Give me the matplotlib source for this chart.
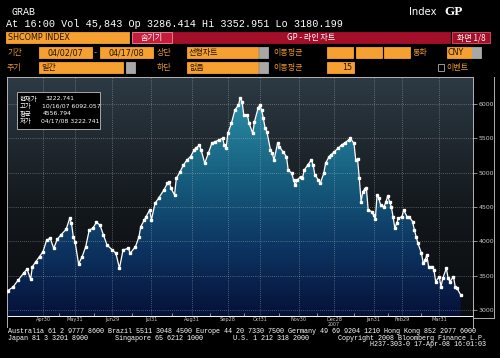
import matplotlib.pyplot as plt
import numpy as np
from matplotlib.patches import Rectangle
from matplotlib.lines import Line2D
from matplotlib.colors import LinearSegmentedColormap

W, H = 500, 358
KR = ['Noto Sans CJK KR', 'DejaVu Sans']
MONO = ['Liberation Mono', 'DejaVu Sans Mono']

# trading day number counted from 2007-04-02, SHCOMP close
day = [0, 3, 6, 9, 11, 13, 14, 16, 18, 20, 22, 24, 26, 28, 30, 33, 35, 36, 37, 38,
       40, 42, 44, 46, 48, 50, 52, 54, 56, 59, 61, 63, 65, 68, 69, 72, 74, 75, 77, 78,
       80, 81, 83, 85, 88, 90, 91, 92, 94, 95, 97, 99, 101, 103, 105, 106, 108, 109, 111, 113,
       115, 117, 119, 121, 122, 123, 124, 126, 128, 130, 131, 132, 133, 135, 136, 138, 139, 141, 142, 143,
       144, 145, 146, 148, 149, 150, 152, 153, 155, 157, 158, 160, 161, 162, 163, 165, 166, 167, 169, 171,
       172, 173, 175, 176, 178, 179, 181, 182, 184, 186, 188, 190, 192, 193, 195, 196, 197, 198, 199, 200,
       201, 202, 203, 205, 206, 207, 208, 209, 210, 212, 213, 214, 215, 216, 217, 218, 219, 220, 222, 223,
       225, 226, 228, 229, 230, 231, 233, 234, 235, 236, 237, 239, 240, 241, 243, 244, 245, 247, 248, 249,
       251, 252, 253, 255]
close = [3280, 3332, 3437, 3535, 3597, 3449, 3633, 3706, 3778, 3851, 4020, 4045, 3899, 4030, 4093, 4176, 4336, 4264, 4069, 3996,
         3670, 3778, 3922, 4166, 4190, 4278, 4238, 4093, 3947, 3874, 3826, 3608, 3874, 3899, 3826, 3922, 4069, 4214, 4311, 4360,
         4457, 4311, 4554, 4627, 4748, 4845, 4870, 4773, 4675, 4918, 5006, 5112, 5185, 5234, 5330, 5355, 5403, 5330, 5137, 5282,
         5428, 5453, 5476, 5500, 5403, 5355, 5573, 5719, 5913, 5985, 6092.057, 6035, 5840, 5840, 5719, 5573, 5743, 5937, 5985, 5913,
         5792, 5646, 5597, 5330, 5282, 5185, 5428, 5379, 5307, 5234, 5039, 4991, 4894, 4821, 4894, 4942, 4918, 5039, 5112, 5185,
         5112, 4967, 4894, 4845, 4991, 5137, 5234, 5258, 5307, 5355, 5403, 5438, 5476, 5500, 5428, 5185, 5200, 4918, 4579, 4724,
         4759, 4773, 4457, 4433, 4384, 4321, 4675, 4627, 4530, 4506, 4579, 4661, 4579, 4506, 4360, 4190, 4264, 4336, 4360, 4457,
         4352, 4360, 4288, 4166, 4069, 3972, 3826, 3680, 3729, 3801, 3633, 3633, 3583, 3414, 3487, 3341, 3462, 3608, 3462, 3414,
         3487, 3341, 3317, 3222.741]

tick_days = [20, 38, 59, 81, 104, 124, 142, 164, 184, 206, 222, 243]
tick_labels = ['Apr30', 'May31', 'Jun29', 'Jul31', 'Aug31', 'Sep28',
               'Oct31', 'Nov30', 'Dec28', 'Jan31', 'Feb29', 'Mar31']
price_ticks = [3000, 3500, 4000, 4500, 5000, 5500, 6000]

fig = plt.figure(figsize=(5, 3.58), dpi=100, facecolor='black')


def box(x, y, w, h, fc, ec=None, lw=0.6):
    fig.add_artist(Rectangle((x / W, 1 - (y + h) / H), w / W, h / H, transform=fig.transFigure,
                             facecolor=fc, edgecolor=ec if ec else fc, linewidth=lw))


def txt(x, y, s, **kw):
    kw.setdefault('va', 'center')
    fig.text(x / W, 1 - y / H, s, **kw)


def vline(x, y0, y1, color='#b0b0b0', lw=0.7):
    fig.add_artist(Line2D([x / W, x / W], [1 - y0 / H, 1 - y1 / H], color=color, lw=lw,
                          transform=fig.transFigure))


# ---- header ----
ORANGE = '#f5a030'
LBL = '#e8962c'
DARK = '#231400'
txt(11, 12, 'GRAB', color='white', fontsize=7.2, family=MONO)
txt(409, 12, 'Index', color='white', fontsize=7.2, family='DejaVu Sans')
txt(444, 12, 'GP', color='white', fontsize=9.5, family='Liberation Serif', fontweight='bold')
txt(6, 24, 'At 16:00 Vol 45,843 Op 3286.414 Hi 3352.951 Lo 3180.199', color='white',
    fontsize=7.3, family=MONO)

# row 1
box(6, 32, 123, 11, ORANGE)
txt(8, 37.5, 'SHCOMP INDEX', color=DARK, fontsize=5.8, family='DejaVu Sans')
box(172, 32, 278, 11, '#a30e28')
box(132, 32, 40, 11, '#c71d3c', ec='#f08a9c')
txt(152, 37.5, '숨기기', color='white', fontsize=5.8, family=KR, ha='center')
txt(311, 37.5, 'GP - 라인 차트', color='white', fontsize=5.8, family=KR, ha='center')
box(452, 32, 38, 11, '#a30e28', ec='#e0506c')
txt(471, 37.5, '화면 1/8', color='white', fontsize=5.8, family=KR, ha='center')

# row 2
r2 = 52.5
txt(7, r2, '기간', color=LBL, fontsize=5.8, family=KR)
box(39, 47, 53, 11, ORANGE)
txt(65, r2, '04/02/07', color=DARK, fontsize=5.8, family='DejaVu Sans', ha='center')
txt(95, r2, '-', color=LBL, fontsize=6, ha='center')
box(100, 47, 53, 11, ORANGE)
txt(126, r2, '04/17/08', color=DARK, fontsize=5.8, family='DejaVu Sans', ha='center')
txt(157, r2, '상단', color=LBL, fontsize=5.8, family=KR)
box(187, 47, 71, 11, ORANGE)
txt(189, r2, '선형차트', color=DARK, fontsize=5.8, family=KR)
box(259, 47, 9, 11, '#a8a8a8')
txt(273, r2, '이동평균', color=LBL, fontsize=5.8, family=KR)
for bx in (327, 356, 384):
    box(bx, 47, 26, 11, ORANGE)
txt(413, r2, '통화', color=LBL, fontsize=5.8, family=KR)
box(447, 47, 25, 11, ORANGE)
txt(448, r2, 'CNY', color=DARK, fontsize=5.8, family='DejaVu Sans')
box(472, 47, 9, 11, '#a8a8a8')

# row 3
r3 = 67.5
txt(7, r3, '주기', color=LBL, fontsize=5.8, family=KR)
box(39, 62, 84, 11, ORANGE)
txt(41, r3, '일간', color=DARK, fontsize=5.8, family=KR)
box(126, 62, 9, 11, '#a8a8a8')
txt(157, r3, '하단', color=LBL, fontsize=5.8, family=KR)
box(187, 62, 71, 11, ORANGE)
txt(189, r3, '없음', color=DARK, fontsize=5.8, family=KR)
box(259, 62, 9, 11, '#a8a8a8')
txt(273, r3, '이동평균', color=LBL, fontsize=5.8, family=KR)
box(327, 62, 27, 11, ORANGE)
txt(352, r3, '15', color=DARK, fontsize=5.8, family='DejaVu Sans', ha='right')
box(438, 64.5, 6, 6, 'black', ec='#b0b0b0')
txt(446, r3, '이벤트', color=LBL, fontsize=5.8, family=KR)

# ---- chart ----
ax = fig.add_axes([7 / W, 1 - 316 / H, 466 / W, 239 / H])
xmin, xmax = -0.3, 262
ymin, ymax = 2913, 6393
x = np.array(day)
y = np.array(close)

bg_cmap = LinearSegmentedColormap.from_list('bg', [(0, '#0a0c0f'), (0.45, '#13181c'), (1, '#2d3a44')])
ax.imshow(np.linspace(0, 1, 256).reshape(-1, 1), extent=[xmin, xmax, ymin, ymax], origin='lower',
          aspect='auto', cmap=bg_cmap, zorder=0)

fill_cmap = LinearSegmentedColormap.from_list('fill', [(0, '#061138'), (0.3, '#0c3360'),
                                                       (0.65, '#17607f'), (1, '#2b8fa8')])
im = ax.imshow(np.linspace(0, 1, 256).reshape(-1, 1), extent=[xmin, xmax, ymin, y.max()],
               origin='lower', aspect='auto', cmap=fill_cmap, zorder=1)
poly = ax.fill_between(x, y, ymin, facecolor='none', edgecolor='none')
im.set_clip_path(poly.get_paths()[0], transform=ax.transData)

ax.plot(x, y, color='white', lw=0.9, marker='s', ms=1.8, mec='white', mfc='white', zorder=4)

ax.set_xlim(xmin, xmax)
ax.set_ylim(ymin, ymax)
ax.set_xticks(tick_days)
ax.set_xticklabels(tick_labels)
mids = [(a + b) / 2 for a, b in zip(tick_days[:-1], tick_days[1:])]
ax.set_xticks(mids, minor=True)
ax.yaxis.tick_right()
ax.set_yticks(price_ticks)
ax.set_yticklabels([str(p) for p in price_ticks])
ax.tick_params(axis='y', colors='#c8c8c8', labelsize=4.5, length=3, width=0.5, pad=1)
ax.tick_params(axis='x', colors='#c8c8c8', labelsize=3.6, length=0, pad=0.8)
ax.tick_params(axis='x', which='minor', colors='#c8c8c8', length=2, width=0.5, direction='in')
ax.grid(True, color='#c8c8c8', linestyle=(0, (1, 2)), lw=0.5, alpha=0.7, zorder=2)
ax.set_axisbelow(False)
for side, sp in ax.spines.items():
    sp.set_color('#b4b4b4')
    sp.set_linewidth(0.7)
ax.spines['bottom'].set_color('white')
txt(334, 325, '2007', color='#c8c8c8', fontsize=3.4, ha='center')

# axis panel borders
vline(494, 77, 318)
vline(7, 316, 327)
vline(473, 316, 328)
fig.add_artist(Line2D([473 / W, 494 / W], [1 - 318 / H, 1 - 318 / H], color='#b0b0b0', lw=0.7,
                      transform=fig.transFigure))

# info box
box(17, 92, 83, 37, 'black', ec='#a8a8a8', lw=0.7)
info = [('현재가', '3222.741', 46), ('고가', '10/16/07 6092.057', 42),
        ('평균', '4556.794', 43), ('저가', '04/17/08 3222.741', 41)]
for i, (k, v, vx) in enumerate(info):
    yy = 99 + i * 7.4
    txt(20, yy, k, color='white', fontsize=4.6, family=KR)
    txt(vx, yy, v, color='white', fontsize=4.4, family='DejaVu Sans')

# footer
FS = 4.85
txt(8, 331.5, 'Australia 61 2 9777 8600 Brazil 5511 3048 4500 Europe 44 20 7330 7500 '
    'Germany 49 69 9204 1210 Hong Kong 852 2977 6000', color='white', fontsize=FS, family=MONO)
txt(8, 338, 'Japan 81 3 3201 8900', color='white', fontsize=FS, family=MONO)
txt(115, 338, 'Singapore 65 6212 1000', color='white', fontsize=FS, family=MONO)
txt(233, 338, 'U.S. 1 212 318 2000', color='white', fontsize=FS, family=MONO)
txt(486, 338, 'Copyright 2008 Bloomberg Finance L.P.', color='white', fontsize=FS, family=MONO, ha='right')
txt(486, 344.5, 'H237-303-0 17-Apr-08 16:01:03', color='white', fontsize=FS, family=MONO, ha='right')

fig.savefig('out.png', dpi=100, facecolor='black')
plt.close(fig)
